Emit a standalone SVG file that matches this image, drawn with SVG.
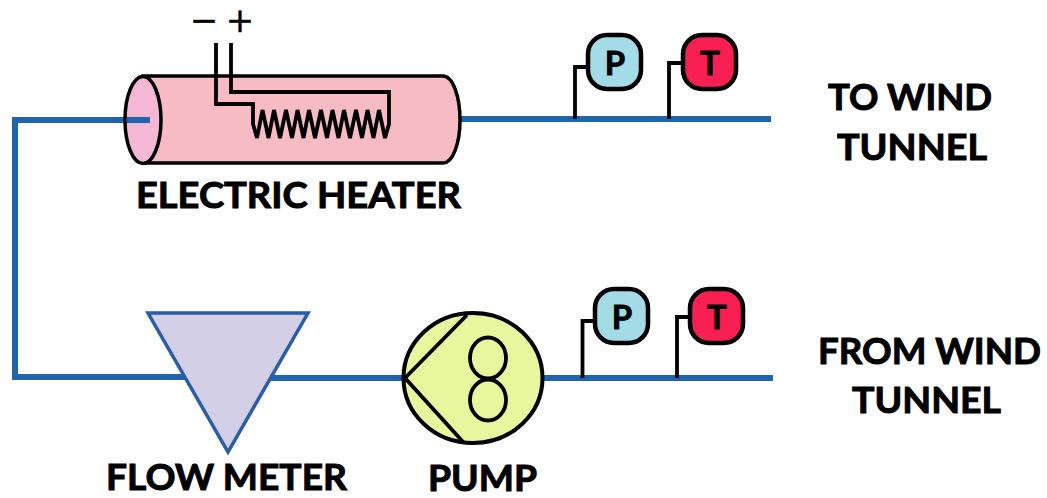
<svg xmlns="http://www.w3.org/2000/svg" width="1047" height="498" viewBox="0 0 1047 498">
<style>
.w{stroke:#000;stroke-width:3.8;fill:none;stroke-linejoin:miter}
.p{stroke:#1f65ad;stroke-width:6;fill:none;stroke-linejoin:miter}
.t{font-family:"Lato","Open Sans",sans-serif;font-weight:700;font-size:37px;fill:#000;stroke:#000;stroke-width:1}
.g{font-family:"Lato","Open Sans",sans-serif;font-weight:700;font-size:33px;fill:#000;stroke:#000;stroke-width:.8;text-anchor:middle}
.s{font-family:"DejaVu Sans",sans-serif;font-weight:400;font-size:34px;fill:#000;stroke:#000;stroke-width:.4;text-anchor:middle}
.pv{fill:#a3dce6;stroke:#000;stroke-width:4.5}
.tv{fill:#f91f52;stroke:#000;stroke-width:4.5}
</style>
<rect width="1047" height="498" fill="#fff"/>
<g id="connectors">
<path class="p" d="M150 120H15V377H200"/>
<path class="p" d="M250 378H405"/>
<path class="p" d="M543 378H773"/>
<path class="p" d="M457 119H771"/>
<path class="w" d="M575 119V67H590"/>
<path class="w" d="M669 119V63H685"/>
<path class="w" d="M582.500 378V321H597"/>
<path class="w" d="M677 378V317H692"/>
</g>
<g id="electric-heater">
<path d="M143 76H443C453 76 460 97 460 120C460 143 453 163 443 163H143Z" fill="#f7bbc4" stroke="#000" stroke-width="3.500"/>
<ellipse cx="143" cy="120" rx="18" ry="43.500" fill="#f4b8d4" stroke="#000" stroke-width="3.500"/>
<path d="M150 120H127" class="p"/>
<path class="w" d="M216 43V104H253V124L257 138L262.500 110L268.500 138L274 110L280 138L286 110L292 138L297.500 110L303.500 138L309 110L315 138L321 110L327 138L332.500 110L338.500 138L344 110L350 138L356 110L362 138L367.500 110L373.500 138L379 110L385 138L389 124V92H231V43"/>
<text class="s" x="204" y="32">−</text>
<text class="s" x="240" y="32">+</text>
<text class="t" x="136" y="208" textLength="325" lengthAdjust="spacingAndGlyphs">ELECTRIC HEATER</text>
</g>
<g id="flow-meter">
<path d="M148 313H308L228 452Z" fill="#d2cfe6" stroke="#2a5ca8" stroke-width="3.500"/>
<text class="t" x="106" y="490" textLength="241" lengthAdjust="spacingAndGlyphs">FLOW METER</text>
</g>
<g id="pump">
<ellipse cx="473" cy="378" rx="69.500" ry="65" fill="#e8f79e" stroke="#000" stroke-width="4"/>
<path class="w" d="M467 315L405 378L464 443"/>
<ellipse cx="488" cy="358" rx="18" ry="20.500" class="w"/>
<ellipse cx="488" cy="400" rx="18" ry="20.500" class="w"/>
<text class="t" x="428" y="491" textLength="109" lengthAdjust="spacingAndGlyphs">PUMP</text>
</g>
<g id="gauge-p-top"><rect class="pv" x="588" y="35" width="53" height="54" rx="19"/><text class="g" x="615" y="75">P</text></g>
<g id="gauge-t-top"><rect class="tv" x="683" y="35" width="53" height="54" rx="19"/><text class="g" x="710" y="75">T</text></g>
<g id="gauge-p-bottom"><rect class="pv" x="595" y="289" width="53" height="54" rx="19"/><text class="g" x="622" y="329">P</text></g>
<g id="gauge-t-bottom"><rect class="tv" x="690" y="289" width="53" height="54" rx="19"/><text class="g" x="717" y="329">T</text></g>
<g id="labels">
<text class="t" x="828" y="110" textLength="164" lengthAdjust="spacingAndGlyphs">TO WIND</text>
<text class="t" x="837" y="160" textLength="150" lengthAdjust="spacingAndGlyphs">TUNNEL</text>
<text class="t" x="818" y="364" textLength="223" lengthAdjust="spacingAndGlyphs">FROM WIND</text>
<text class="t" x="852" y="413" textLength="149" lengthAdjust="spacingAndGlyphs">TUNNEL</text>
</g>
</svg>
